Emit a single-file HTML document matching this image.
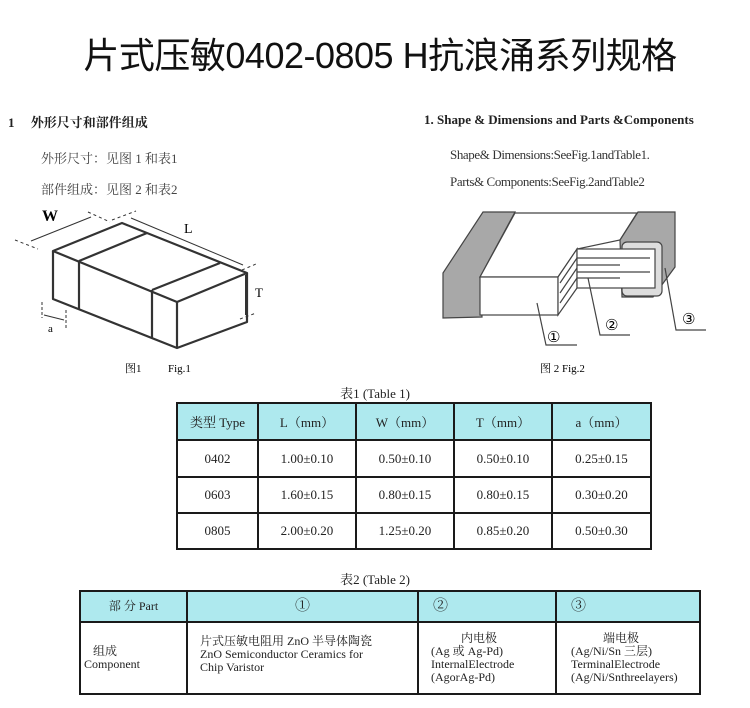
<!DOCTYPE html>
<html><head><meta charset="utf-8"><style>
body{margin:0;width:750px;height:708px;background:#fff;position:relative;overflow:hidden;font-family:"Liberation Serif","Noto Serif CJK SC",serif;color:#222}
.a{position:absolute;white-space:nowrap}
table{position:absolute;border-collapse:collapse;font-size:13px;table-layout:fixed}
td{border:2px solid #1a1a1a;padding:0}
.h td{background:#aee9ee}
</style></head><body>
<div class="a" style="left:0;width:760px;top:27px;text-align:center;font-family:'Liberation Sans','Noto Sans CJK SC',sans-serif;font-size:36px;color:#111;letter-spacing:-0.5px">片式压敏0402-0805 H抗浪涌系列规格</div>
<div class="a" style="left:8px;top:112px;font-size:13px;font-weight:bold">1&nbsp;&nbsp;&nbsp;&nbsp;&nbsp;外形尺寸和部件组成</div>
<div class="a" style="left:41px;top:148px;font-size:13px;color:#444">外形尺寸：见图 1 和表1</div>
<div class="a" style="left:41px;top:179px;font-size:13px;color:#444">部件组成：见图 2 和表2</div>
<div class="a" style="left:424px;top:112px;font-size:13px;font-weight:bold">1. Shape &amp; Dimensions and Parts &amp;Components</div>
<div class="a" style="left:450px;top:147px;font-size:13px;color:#333;letter-spacing:-0.4px">Shape&amp; Dimensions:SeeFig.1andTable1.</div>
<div class="a" style="left:450px;top:174px;font-size:13px;color:#333;letter-spacing:-0.4px">Parts&amp; Components:SeeFig.2andTable2</div>
<svg class="a" style="left:0;top:0" width="750" height="400">
<g stroke="#333" stroke-width="2.2" fill="none" stroke-linejoin="round">
<polygon points="53,251 122,223 247,273 177,302"/>
<polyline points="53,251 53,299 177,348 247,322 247,273"/>
<line x1="177" y1="302" x2="177" y2="348"/>
<line x1="79" y1="261" x2="147" y2="233"/><line x1="79" y1="261" x2="79" y2="309"/>
<line x1="152" y1="290" x2="220" y2="263"/><line x1="152" y1="290" x2="152" y2="338"/>
</g>
<g stroke="#333" stroke-width="1" fill="none">
<line x1="31" y1="241" x2="91" y2="217"/><line x1="131" y1="218" x2="243" y2="265"/>
<line x1="246" y1="275" x2="246" y2="315" stroke-width="2"/>
<line x1="44" y1="315" x2="64" y2="320"/>
<line x1="15" y1="240" x2="38" y2="249" stroke-dasharray="3,3"/>
<line x1="88" y1="212" x2="110" y2="222" stroke-dasharray="3,3"/>
<line x1="112" y1="220" x2="136" y2="211" stroke-dasharray="3,3"/>
<line x1="242" y1="270" x2="256" y2="264" stroke-dasharray="3,3"/>
<line x1="240" y1="319" x2="256" y2="313" stroke-dasharray="3,3"/>
<line x1="42" y1="302" x2="42" y2="318" stroke-dasharray="3,2"/>
<line x1="66" y1="310" x2="66" y2="330" stroke-dasharray="3,2"/>
</g>
<text x="42" y="221" font-size="16" font-family="Liberation Serif" font-weight="bold">W</text>
<text x="184" y="233" font-size="14" font-family="Liberation Serif">L</text>
<text x="255" y="297" font-size="13" font-family="Liberation Serif">T</text>
<text x="48" y="332" font-size="11" font-family="Liberation Serif">a</text>
<text x="125" y="372" font-size="11" font-family="Liberation Serif,Noto Serif CJK SC">图1</text>
<text x="168" y="372" font-size="11" font-family="Liberation Serif">Fig.1</text>
<g stroke="#444" stroke-width="1.2">
<polygon points="443,273 483,212 515,212 480,277 482,317 443,318" fill="#a8a8a8"/>
<polygon points="515,213 637,213 620,240 577,249 558,277 480,277" fill="#fff"/>
<rect x="480" y="277" width="78" height="38" fill="#fff"/>
<polygon points="558,277 577,249 577,288 558,315" fill="#fff"/>
<polygon points="638,212 675,212 675,267 653,297 622,297 620,240" fill="#a8a8a8"/>
<rect x="622" y="242" width="40" height="54" rx="5" fill="#ddd"/>
<rect x="577" y="249" width="78" height="39" fill="#fff"/>
<g fill="none"><line x1="577" y1="258" x2="650" y2="258"/><line x1="577" y1="265" x2="620" y2="265"/><line x1="577" y1="272" x2="650" y2="272"/><line x1="577" y1="278" x2="620" y2="278"/>
<line x1="560" y1="283" x2="577" y2="258"/><line x1="560" y1="293" x2="577" y2="268"/><line x1="560" y1="303" x2="577" y2="278"/>
<polyline points="537,303 546,345 577,345"/><polyline points="588,278 600,335 630,335"/><polyline points="665,268 676,330 706,330"/></g>
</g>
<text x="547" y="342" font-size="15" font-family="DejaVu Sans">①</text>
<text x="605" y="330" font-size="15" font-family="DejaVu Sans">②</text>
<text x="682" y="324" font-size="15" font-family="DejaVu Sans">③</text>
<text x="540" y="372" font-size="11" font-family="Liberation Serif,Noto Serif CJK SC">图 2 Fig.2</text>
</svg>
<div class="a" style="left:0;width:750px;top:383px;text-align:center;font-size:13px">表1 (Table 1)</div>
<table style="left:176px;top:402px;width:476px;text-align:center">
<tr class="h" style="height:37px"><td style="width:79px">类型 Type</td><td style="width:96px">L（mm）</td><td style="width:96px">W（mm）</td><td style="width:96px">T（mm）</td><td>a（mm）</td></tr>
<tr style="height:37px"><td>0402</td><td>1.00±0.10</td><td>0.50±0.10</td><td>0.50±0.10</td><td>0.25±0.15</td></tr>
<tr style="height:36px"><td>0603</td><td>1.60±0.15</td><td>0.80±0.15</td><td>0.80±0.15</td><td>0.30±0.20</td></tr>
<tr style="height:36px"><td>0805</td><td>2.00±0.20</td><td>1.25±0.20</td><td>0.85±0.20</td><td>0.50±0.30</td></tr>
</table>
<div class="a" style="left:0;width:750px;top:569px;text-align:center;font-size:13px">表2 (Table 2)</div>
<table style="left:79px;top:590px;width:622px;font-size:12px;line-height:13px">
<tr class="h" style="height:31px"><td style="width:105px;text-align:center">部 分 Part</td><td style="width:229px;text-align:center;font-size:15px">①</td><td style="width:122px;padding-left:14px;font-size:15px">②</td><td style="padding-left:14px;font-size:15px">③</td></tr>
<tr style="height:72px"><td style="padding-left:3px">&nbsp;&nbsp;&nbsp;组成<br>Component</td><td style="padding-left:12px;vertical-align:top;padding-top:12px">片式压敏电阻用 ZnO 半导体陶瓷<br>ZnO Semiconductor Ceramics for<br>Chip Varistor</td><td style="padding-left:12px"><div style="padding-left:30px">内电极</div>(Ag 或 Ag-Pd)<br>InternalElectrode<br>(AgorAg-Pd)</td><td style="padding-left:14px"><div style="padding-left:32px">端电极</div>(Ag/Ni/Sn 三层)<br>TerminalElectrode<br>(Ag/Ni/Snthreelayers)</td></tr>
</table>
</body></html>
